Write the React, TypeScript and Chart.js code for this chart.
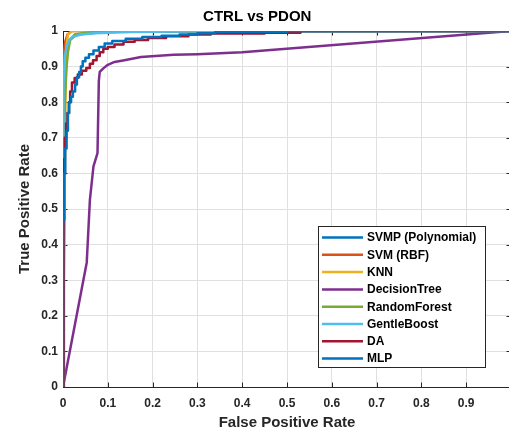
import React, { useEffect, useRef } from "react";
import { Chart, registerables } from "chart.js";

Chart.register(...registerables);

const chartTitle = "CTRL vs PDON";
const xAxisTitle = "False Positive Rate";
const yAxisTitle = "True Positive Rate";

const xTickValues = [0, 0.1, 0.2, 0.3, 0.4, 0.5, 0.6, 0.7, 0.8, 0.9, 1];
const xTickLabels = ["0", "0.1", "0.2", "0.3", "0.4", "0.5", "0.6", "0.7", "0.8", "0.9", ""];
const yTickValues = [0, 0.1, 0.2, 0.3, 0.4, 0.5, 0.6, 0.7, 0.8, 0.9, 1];
const yTickLabels = ["0", "0.1", "0.2", "0.3", "0.4", "0.5", "0.6", "0.7", "0.8", "0.9", "1"];

const seriesNames = ["SVMP (Polynomial)", "SVM (RBF)", "KNN", "DecisionTree", "RandomForest", "GentleBoost", "DA", "MLP"];
const seriesColors = ["#0072BD", "#D95319", "#EDB120", "#7E2F8E", "#77AC30", "#4DBEEE", "#A2142F", "#0072BD"];

const fprSVMP = [0, 0, 0.002, 0.004, 0.008, 0.015, 0.03, 0.1, 1];
const tprSVMP = [0, 0.55, 0.8, 0.9, 0.95, 0.975, 0.99, 0.998, 1];

const fprSVM = [0, 0, 0.002, 0.005, 0.01, 0.02, 1];
const tprSVM = [0, 0.8, 0.93, 0.97, 0.99, 1, 1];

const fprKNN = [0, 0.002, 0.004, 0.004, 0.006, 0.008, 0.011, 0.02, 1];
const tprKNN = [0, 0.3, 0.47, 0.57, 0.85, 0.96, 0.99, 1, 1];

const fprDT = [0, 0.053, 0.06, 0.068, 0.077, 0.08, 0.082, 0.09, 0.1, 0.115, 0.137, 0.174, 0.247, 0.3, 0.4, 1];
const tprDT = [0, 0.35, 0.525, 0.62, 0.657, 0.86, 0.885, 0.895, 0.905, 0.913, 0.918, 0.927, 0.933, 0.935, 0.94, 1];

const fprRF = [0, 0.002, 0.004, 0.008, 0.011, 0.016, 0.026, 0.05, 0.1, 1];
const tprRF = [0, 0.6, 0.806, 0.9, 0.94, 0.975, 0.99, 0.995, 1, 1];

const fprGB = [0, 0, 0.001, 0.002, 0.004, 0.008, 0.014, 0.02, 0.04, 0.07, 0.15, 0.3, 1];
const tprGB = [0, 0.6, 0.71, 0.85, 0.93, 0.955, 0.975, 0.983, 0.99, 0.994, 0.997, 0.999, 1];

const fprDA = [0, 0, 0.002, 0.002, 0.004, 0.004, 0.007, 0.007, 0.01, 0.01, 0.013, 0.013, 0.016, 0.016, 0.02, 0.02, 0.026, 0.026, 0.033, 0.033, 0.042, 0.042, 0.052, 0.052, 0.06, 0.06, 0.067, 0.067, 0.075, 0.075, 0.082, 0.082, 0.09, 0.09, 0.1, 0.1, 0.115, 0.115, 0.135, 0.135, 0.16, 0.16, 0.19, 0.19, 0.23, 0.23, 0.28, 0.28, 0.33, 0.33, 0.45, 0.45, 0.53, 0.53, 1];
const tprDA = [0, 0.58, 0.58, 0.64, 0.64, 0.7, 0.7, 0.74, 0.74, 0.77, 0.77, 0.8, 0.8, 0.83, 0.83, 0.855, 0.855, 0.868, 0.868, 0.878, 0.878, 0.888, 0.888, 0.896, 0.896, 0.908, 0.908, 0.918, 0.918, 0.93, 0.93, 0.94, 0.94, 0.95, 0.95, 0.955, 0.955, 0.962, 0.962, 0.97, 0.97, 0.975, 0.975, 0.98, 0.98, 0.985, 0.985, 0.99, 0.99, 0.993, 0.993, 0.995, 0.995, 1, 1];

const fprMLP = [0, 0, 0.003, 0.003, 0.005, 0.005, 0.008, 0.008, 0.011, 0.011, 0.014, 0.014, 0.018, 0.018, 0.022, 0.022, 0.027, 0.027, 0.031, 0.031, 0.036, 0.036, 0.04, 0.04, 0.044, 0.044, 0.05, 0.05, 0.058, 0.058, 0.068, 0.068, 0.08, 0.08, 0.093, 0.093, 0.11, 0.11, 0.14, 0.14, 0.177, 0.177, 0.22, 0.22, 0.26, 0.26, 0.3, 0.3, 0.34, 0.34, 0.5, 0.5, 1];
const tprMLP = [0, 0.47, 0.47, 0.6, 0.6, 0.67, 0.67, 0.72, 0.72, 0.77, 0.77, 0.8, 0.8, 0.815, 0.815, 0.83, 0.83, 0.85, 0.85, 0.87, 0.87, 0.885, 0.885, 0.9, 0.9, 0.915, 0.915, 0.925, 0.925, 0.935, 0.935, 0.945, 0.945, 0.955, 0.955, 0.965, 0.965, 0.972, 0.972, 0.978, 0.978, 0.983, 0.983, 0.987, 0.987, 0.99, 0.99, 0.994, 0.994, 0.998, 0.998, 1, 1];

const fprAll = [fprSVMP, fprSVM, fprKNN, fprDT, fprRF, fprGB, fprDA, fprMLP];
const tprAll = [tprSVMP, tprSVM, tprKNN, tprDT, tprRF, tprGB, tprDA, tprMLP];

const FONT = "'Liberation Sans', Arial, Helvetica, sans-serif";
const AXIS_COLOR = "#262626";

const overlayPlugin = {
  id: "matlabOverlay",
  beforeDatasetsDraw(chart: any) {
    const { ctx, chartArea: ca, scales } = chart;
    const x = scales.x;
    const y = scales.y;
    ctx.save();
    ctx.strokeStyle = AXIS_COLOR;
    ctx.lineWidth = 1;
    ctx.beginPath();
    ctx.moveTo(ca.left, Math.round(ca.top) + 0.5);
    ctx.lineTo(ca.right, Math.round(ca.top) + 0.5);
    ctx.stroke();
    const tl = 4.5;
    ctx.beginPath();
    xTickValues.forEach((v) => {
      const px = Math.round(x.getPixelForValue(v)) + 0.5;
      ctx.moveTo(px, ca.bottom);
      ctx.lineTo(px, ca.bottom - tl);
      ctx.moveTo(px, ca.top);
      ctx.lineTo(px, ca.top + tl);
    });
    yTickValues.forEach((v) => {
      const py = Math.round(y.getPixelForValue(v)) + 0.5;
      ctx.moveTo(ca.left, py);
      ctx.lineTo(ca.left + tl, py);
      ctx.moveTo(ca.right, py);
      ctx.lineTo(ca.right - tl, py);
    });
    ctx.stroke();
    ctx.restore();
  },
  afterDatasetsDraw(chart: any) {
    const { ctx } = chart;
    const datasets = chart.data.datasets;
    const boxL = 318.5, boxT = 226.5, boxW = 167, boxH = 141;
    ctx.save();
    ctx.fillStyle = "#ffffff";
    ctx.fillRect(boxL, boxT, boxW, boxH);
    ctx.strokeStyle = AXIS_COLOR;
    ctx.lineWidth = 1;
    ctx.strokeRect(boxL, boxT, boxW, boxH);
    ctx.font = `bold 12px ${FONT}`;
    ctx.textBaseline = "middle";
    ctx.textAlign = "left";
    const rowStep = 17.3;
    datasets.forEach((ds: any, i: number) => {
      const cy = 237.5 + i * rowStep;
      ctx.strokeStyle = ds.borderColor;
      ctx.lineWidth = 2.5;
      ctx.beginPath();
      ctx.moveTo(322, cy);
      ctx.lineTo(363, cy);
      ctx.stroke();
      ctx.fillStyle = "#000000";
      ctx.fillText(ds.label, 367, cy + 0.5);
    });
    ctx.restore();
  },
};

export default function App() {
  const canvasRef = useRef<HTMLCanvasElement | null>(null);

  useEffect(() => {
    const canvas = canvasRef.current;
    if (!canvas) return;
    const n = seriesNames.length;
    const datasets = seriesNames.map((name, i) => ({
      label: name,
      data: fprAll[i].map((fx, k) => ({ x: fx, y: tprAll[i][k] })),
      borderColor: seriesColors[i],
      backgroundColor: seriesColors[i],
      borderWidth: 2.5,
      pointRadius: 0,
      tension: 0,
      fill: false,
      order: n - 1 - i,
      borderJoinStyle: "round" as const,
    }));

    const chart = new Chart(canvas, {
      type: "line",
      data: { datasets },
      plugins: [overlayPlugin],
      options: {
        animation: false,
        responsive: false,
        layout: { padding: { left: 0, right: 5.5, top: 0, bottom: 0 } },
        plugins: {
          legend: { display: false },
          tooltip: { enabled: false },
          title: {
            display: true,
            text: chartTitle,
            color: "#000000",
            font: { family: FONT, size: 15, weight: "bold", lineHeight: 1.2 },
            padding: { top: 8, bottom: 5 },
          },
        },
        scales: {
          x: {
            type: "linear",
            min: 0,
            max: 1,
            afterFit: (scale: any) => {
              scale.height = 43;
            },
            afterBuildTicks: (scale: any) => {
              scale.ticks = xTickValues.map((v) => ({ value: v }));
            },
            ticks: {
              autoSkip: false,
              maxRotation: 0,
              padding: 9,
              color: AXIS_COLOR,
              font: { family: FONT, size: 12, weight: "bold" },
              callback: (value: any) => {
                const idx = xTickValues.findIndex((v) => Math.abs(v - value) < 1e-9);
                return idx >= 0 ? xTickLabels[idx] : "";
              },
            },
            grid: { color: "#e0e0e0", lineWidth: 1, drawTicks: false },
            border: { color: AXIS_COLOR, width: 1 },
            title: {
              display: true,
              text: xAxisTitle,
              color: AXIS_COLOR,
              font: { family: FONT, size: 15, weight: "bold", lineHeight: 1.0 },
              padding: { top: 0, bottom: 0 },
            },
          },
          y: {
            type: "linear",
            min: 0,
            max: 1,
            afterFit: (scale: any) => {
              scale.width = 63;
            },
            afterBuildTicks: (scale: any) => {
              scale.ticks = yTickValues.map((v) => ({ value: v }));
            },
            ticks: {
              autoSkip: false,
              padding: 5,
              color: AXIS_COLOR,
              font: { family: FONT, size: 12, weight: "bold" },
              callback: (value: any) => {
                const idx = yTickValues.findIndex((v) => Math.abs(v - value) < 1e-9);
                return idx >= 0 ? yTickLabels[idx] : "";
              },
            },
            grid: { color: "#e0e0e0", lineWidth: 1, drawTicks: false },
            border: { color: AXIS_COLOR, width: 1 },
            title: {
              display: true,
              text: yAxisTitle,
              color: AXIS_COLOR,
              font: { family: FONT, size: 15, weight: "bold", lineHeight: 1.0 },
              padding: { top: 17.5, bottom: 0 },
            },
          },
        },
      },
    } as any);

    return () => {
      chart.destroy();
    };
  }, []);

  return (
    <div style={{ position: "fixed", left: 0, top: 0, width: 520, height: 430, background: "#ffffff" }}>
      <canvas ref={canvasRef} width={520} height={430} style={{ display: "block", width: 520, height: 430 }} />
    </div>
  );
}
